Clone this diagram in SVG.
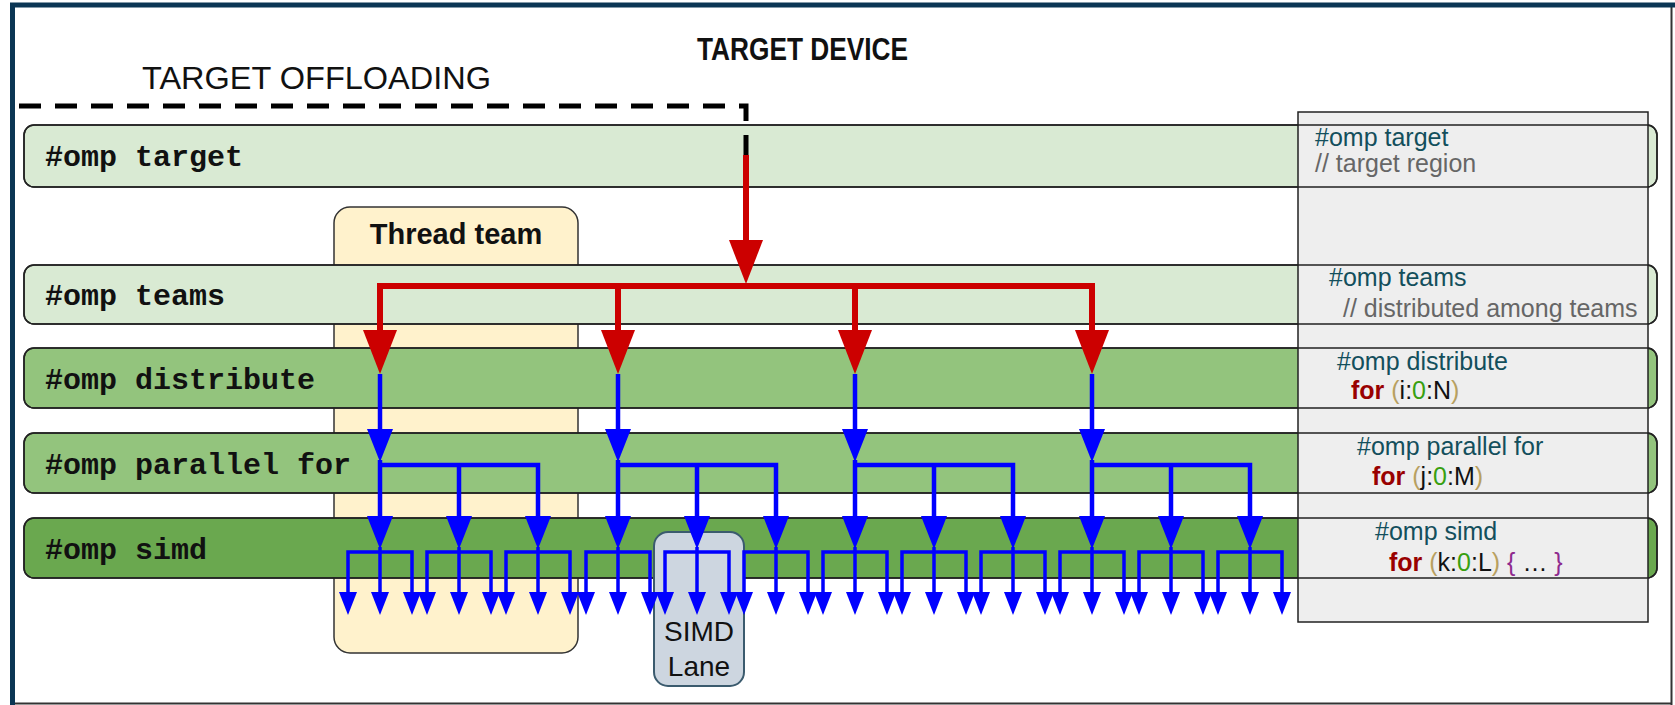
<svg xmlns="http://www.w3.org/2000/svg" width="1675" height="705" viewBox="0 0 1675 705">
  <style>
    .sans { font-family: "Liberation Sans", Arial, sans-serif; }
    .mono { font-family: "Liberation Mono", "Courier New", monospace; font-weight: bold; font-size: 30px; fill: #111; }
    .band { stroke: #222; stroke-width: 1.5; }
    .light { fill: #d9ead3; }
    .mid { fill: #93c47d; }
    .dark { fill: #6aa84f; }
    .outline { fill: none; stroke: #222; stroke-width: 1.5; }
    .code { font-family: "Liberation Sans", Arial, sans-serif; font-size: 25px; }
    .dir { fill: #134f5c; }
    .cmt { fill: #666666; }
    .kw { fill: #990000; font-weight: bold; }
    .par { fill: #b8a060; }
    .num { fill: #38a010; }
    .brc { fill: #8e2a8e; }
    .blk { fill: #111; }
    .red { fill: none; stroke: #cc0000; stroke-width: 6; stroke-linejoin: miter; }
    .blue { fill: none; stroke: #0000ff; stroke-width: 4.5; stroke-linejoin: miter; }
    .blue3 { fill: none; stroke: #0000ff; stroke-width: 3.5; stroke-linejoin: miter; }
  </style>
  <defs>
    <marker id="hRed" markerUnits="userSpaceOnUse" markerWidth="44" markerHeight="34" viewBox="0 0 44 34" refX="0" refY="17" orient="auto-start-reverse">
      <path d="M0,0 L44,17 L0,34 Z" fill="#cc0000"/>
    </marker>
    <marker id="hBlue" markerUnits="userSpaceOnUse" markerWidth="33" markerHeight="26" viewBox="0 0 33 26" refX="0" refY="13" orient="auto-start-reverse">
      <path d="M0,0 L33,13 L0,26 Z" fill="#0000ff"/>
    </marker>
    <marker id="hBlueS" markerUnits="userSpaceOnUse" markerWidth="23" markerHeight="18" viewBox="0 0 23 18" refX="0" refY="9" orient="auto-start-reverse">
      <path d="M0,0 L23,9 L0,18 Z" fill="#0000ff"/>
    </marker>
  </defs>

  <!-- page frame -->
  <g id="frame">
    <rect x="0" y="0" width="1675" height="705" fill="#ffffff"/>
    <path d="M1671.5,5 V705 M12,703.5 H1672" fill="none" stroke="#333" stroke-width="2"/>
    <path d="M12.5,705 V5 H1675" fill="none" stroke="#0b3654" stroke-width="5"/>
  </g>

  <g id="title-device">
    <text class="sans" x="697" y="60" font-size="32" font-weight="bold" textLength="211" lengthAdjust="spacingAndGlyphs" fill="#111">TARGET DEVICE</text>
  </g>
  <g id="title-offloading">
    <text class="sans" x="142" y="89" font-size="31" textLength="349" lengthAdjust="spacingAndGlyphs" fill="#111">TARGET OFFLOADING</text>
  </g>

  <!-- team column behind the bands -->
  <g id="thread-team">
    <rect x="334" y="207" width="244" height="446" rx="16" fill="#fff2cc" stroke="#333" stroke-width="1.5"/>
    <text class="sans" x="456" y="244" font-size="29" font-weight="bold" text-anchor="middle" fill="#111">Thread team</text>
  </g>

  <!-- directive bands -->
  <g id="band-target">
    <rect class="band light" x="24" y="125" width="1633" height="62" rx="10"/>
    <text class="mono" x="45" y="166">#omp target</text>
  </g>
  <g id="band-teams">
    <rect class="band light" x="24" y="265" width="1633" height="59" rx="10"/>
    <text class="mono" x="45" y="305">#omp teams</text>
  </g>
  <g id="band-distribute">
    <rect class="band mid" x="24" y="348" width="1633" height="60" rx="10"/>
    <text class="mono" x="45" y="389">#omp distribute</text>
  </g>
  <g id="band-parallel">
    <rect class="band mid" x="24" y="433" width="1633" height="60" rx="10"/>
    <text class="mono" x="45" y="474">#omp parallel for</text>
  </g>
  <g id="band-simd">
    <rect class="band dark" x="24" y="518" width="1633" height="60" rx="10"/>
    <text class="mono" x="45" y="559">#omp simd</text>
  </g>

  <!-- code panel on the right -->
  <g id="code-panel">
    <rect x="1298" y="112" width="350" height="510" fill="#eeeeee" stroke="#222" stroke-width="1.5"/>
    <rect class="outline" x="24" y="125" width="1633" height="62" rx="10"/>
    <rect class="outline" x="24" y="265" width="1633" height="59" rx="10"/>
    <rect class="outline" x="24" y="348" width="1633" height="60" rx="10"/>
    <rect class="outline" x="24" y="433" width="1633" height="60" rx="10"/>
    <rect class="outline" x="24" y="518" width="1633" height="60" rx="10"/>
    <text class="code dir" x="1315" y="146">#omp target</text>
    <text class="code cmt" x="1315" y="172">// target region</text>
    <text class="code dir" x="1329" y="286">#omp teams</text>
    <text class="code cmt" x="1343" y="317">// distributed among teams</text>
    <text class="code dir" x="1337" y="370">#omp distribute</text>
    <text class="code" x="1351" y="399"><tspan class="kw">for</tspan><tspan class="par"> (</tspan><tspan class="blk">i:</tspan><tspan class="num">0</tspan><tspan class="blk">:N</tspan><tspan class="par">)</tspan></text>
    <text class="code dir" x="1357" y="455">#omp parallel for</text>
    <text class="code" x="1372" y="485"><tspan class="kw">for</tspan><tspan class="par"> (</tspan><tspan class="blk">j:</tspan><tspan class="num">0</tspan><tspan class="blk">:M</tspan><tspan class="par">)</tspan></text>
    <text class="code dir" x="1375" y="540">#omp simd</text>
    <text class="code" x="1389" y="571"><tspan class="kw">for</tspan><tspan class="par"> (</tspan><tspan class="blk">k:</tspan><tspan class="num">0</tspan><tspan class="blk">:L</tspan><tspan class="par">)</tspan><tspan class="brc"> {</tspan><tspan class="blk"> … </tspan><tspan class="brc">}</tspan></text>
  </g>

  <g id="simd-lane">
    <rect x="654" y="532" width="90" height="154" rx="14" fill="#cdd6e0" stroke="#3b5b6e" stroke-width="2"/>
    <text class="sans" x="699" y="641" font-size="28" text-anchor="middle" fill="#111">SIMD</text>
    <text class="sans" x="699" y="676" font-size="28" text-anchor="middle" fill="#111">Lane</text>
  </g>

  <g id="connectors">
    <!-- offload boundary -->
    <path d="M19,106 H746 V160" fill="none" stroke="#000" stroke-width="5" stroke-dasharray="22 14"/>
    <!-- target to teams -->
    <path class="red" d="M746,155 V240" marker-end="url(#hRed)"/>
    <!-- teams to distribute -->
    <path class="red" d="M380,330 V286 H1092 V330" marker-start="url(#hRed)" marker-end="url(#hRed)"/>
    <path class="red" d="M618,286 V330" marker-end="url(#hRed)"/>
    <path class="red" d="M855,286 V330" marker-end="url(#hRed)"/>
    <!-- distribute to parallel for -->
    <path class="blue" d="M380,374 V429" marker-end="url(#hBlue)"/>
    <path class="blue" d="M618,374 V429" marker-end="url(#hBlue)"/>
    <path class="blue" d="M855,374 V429" marker-end="url(#hBlue)"/>
    <path class="blue" d="M1092,374 V429" marker-end="url(#hBlue)"/>
    <!-- parallel for to simd -->
    <g class="blue">
      <path d="M380,460 V516" marker-end="url(#hBlue)"/>
      <path d="M380,465 H538 V516" marker-end="url(#hBlue)"/>
      <path d="M459,465 V516" marker-end="url(#hBlue)"/>
      <path d="M618,460 V516" marker-end="url(#hBlue)"/>
      <path d="M618,465 H776 V516" marker-end="url(#hBlue)"/>
      <path d="M697,465 V516" marker-end="url(#hBlue)"/>
      <path d="M855,460 V516" marker-end="url(#hBlue)"/>
      <path d="M855,465 H1013 V516" marker-end="url(#hBlue)"/>
      <path d="M934,465 V516" marker-end="url(#hBlue)"/>
      <path d="M1092,460 V516" marker-end="url(#hBlue)"/>
      <path d="M1092,465 H1250 V516" marker-end="url(#hBlue)"/>
      <path d="M1171,465 V516" marker-end="url(#hBlue)"/>
    </g>
    <!-- simd lanes -->
    <g class="blue3">
      <path d="M348,592 V552 H412 V592" marker-start="url(#hBlueS)" marker-end="url(#hBlueS)"/>
      <path d="M380,547 V592" marker-end="url(#hBlueS)"/>
      <path d="M427,592 V552 H491 V592" marker-start="url(#hBlueS)" marker-end="url(#hBlueS)"/>
      <path d="M459,547 V592" marker-end="url(#hBlueS)"/>
      <path d="M506,592 V552 H570 V592" marker-start="url(#hBlueS)" marker-end="url(#hBlueS)"/>
      <path d="M538,547 V592" marker-end="url(#hBlueS)"/>
      <path d="M586,592 V552 H650 V592" marker-start="url(#hBlueS)" marker-end="url(#hBlueS)"/>
      <path d="M618,547 V592" marker-end="url(#hBlueS)"/>
      <path d="M665,592 V552 H729 V592" marker-start="url(#hBlueS)" marker-end="url(#hBlueS)"/>
      <path d="M697,547 V592" marker-end="url(#hBlueS)"/>
      <path d="M744,592 V552 H808 V592" marker-start="url(#hBlueS)" marker-end="url(#hBlueS)"/>
      <path d="M776,547 V592" marker-end="url(#hBlueS)"/>
      <path d="M823,592 V552 H887 V592" marker-start="url(#hBlueS)" marker-end="url(#hBlueS)"/>
      <path d="M855,547 V592" marker-end="url(#hBlueS)"/>
      <path d="M902,592 V552 H966 V592" marker-start="url(#hBlueS)" marker-end="url(#hBlueS)"/>
      <path d="M934,547 V592" marker-end="url(#hBlueS)"/>
      <path d="M981,592 V552 H1045 V592" marker-start="url(#hBlueS)" marker-end="url(#hBlueS)"/>
      <path d="M1013,547 V592" marker-end="url(#hBlueS)"/>
      <path d="M1060,592 V552 H1124 V592" marker-start="url(#hBlueS)" marker-end="url(#hBlueS)"/>
      <path d="M1092,547 V592" marker-end="url(#hBlueS)"/>
      <path d="M1139,592 V552 H1203 V592" marker-start="url(#hBlueS)" marker-end="url(#hBlueS)"/>
      <path d="M1171,547 V592" marker-end="url(#hBlueS)"/>
      <path d="M1218,592 V552 H1282 V592" marker-start="url(#hBlueS)" marker-end="url(#hBlueS)"/>
      <path d="M1250,547 V592" marker-end="url(#hBlueS)"/>
    </g>
  </g>
</svg>
